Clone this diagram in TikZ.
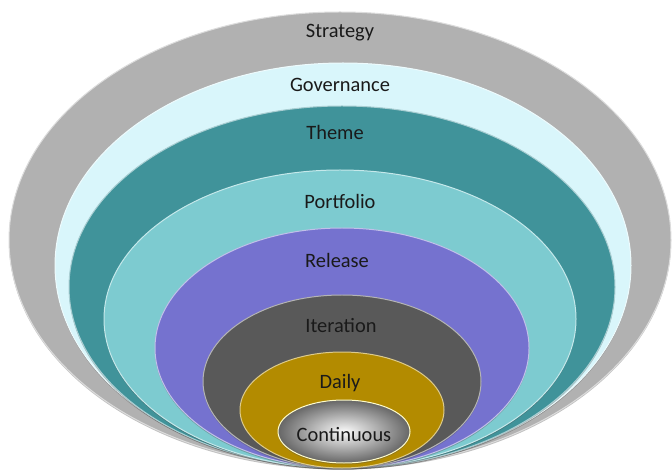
\documentclass[tikz,border=0pt]{standalone}
\usepackage{fontspec}
\setmainfont{Carlito}
\usetikzlibrary{shadows}
\definecolor{cStrat}{HTML}{B1B1B1}
\definecolor{cGov}{HTML}{D9F6FB}
\definecolor{cTheme}{HTML}{40939A}
\definecolor{cPort}{HTML}{7DCBD0}
\definecolor{cRel}{HTML}{7572CF}
\definecolor{cIter}{HTML}{595959}
\definecolor{cDaily}{HTML}{B38B00}
\definecolor{cTxt}{HTML}{1A1A1A}
\tikzset{
  ring/.style={line width=1pt, draw=white!55!#1, fill=#1,
    drop shadow={shadow xshift=0pt, shadow yshift=-1.5pt, opacity=0.35, fill=black!70}},
  lbl/.style={font=\fontsize{20.5}{24}\selectfont, text=cTxt, inner sep=0pt}
}
\begin{document}
\begin{tikzpicture}[x=1bp,y=-1bp]
\useasboundingbox (0,0) rectangle (672,476);
\fill[white] (0,0) rectangle (672,476);
\path[ring=cStrat] (340,240) ellipse [x radius=331, y radius=228];
\path[ring=cGov]   (343,265.5) ellipse [x radius=288, y radius=202.5];
\path[ring=cTheme] (342,287) ellipse [x radius=273, y radius=181];
\path[ring=cPort]  (340,319) ellipse [x radius=236, y radius=149];
\path[ring=cRel]   (342,348) ellipse [x radius=187, y radius=120];
\path[ring=cIter]  (342,381.5) ellipse [x radius=139, y radius=86.5];
\path[ring=cDaily] (342,410) ellipse [x radius=102, y radius=58];
\path[line width=1pt, draw=yellow!20!white, inner color=white!97!gray, outer color=gray!80!black,
  drop shadow={shadow xshift=0pt, shadow yshift=-1.5pt, opacity=0.35, fill=black!70}]
  (344,431.5) ellipse [x radius=66, y radius=31.5];
\node[lbl] (strategy)   at (340,33)  {Strategy};
\node[lbl] (governance) at (340,85)  {Governance};
\node[lbl] (theme)      at (335,132) {Theme};
\node[lbl] (portfolio)  at (340,201) {Portfolio};
\node[lbl] (release)    at (337,260) {Release};
\node[lbl] (iteration)  at (341,326) {Iteration};
\node[lbl] (daily)      at (340,383) {Daily};
\node[lbl] (continuous) at (344,435) {Continuous};
\end{tikzpicture}
\end{document}
